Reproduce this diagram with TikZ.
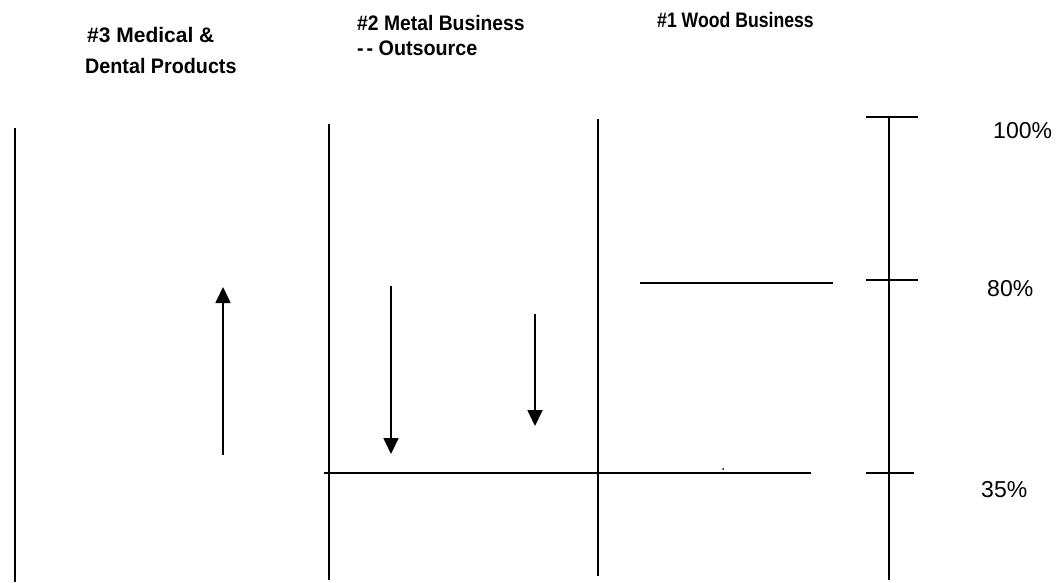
\documentclass[tikz,border=0pt]{standalone}
\usepackage{fontspec}
\setmainfont{Liberation Sans}
\usetikzlibrary{arrows.meta}
\newcommand{\squeezed}[2]{\scalebox{#1}[1]{#2}}
\tikzset{
  bar/.style={line width=1.8pt, line cap=butt},
  rule/.style={line width=1.6pt},
  move/.style={line width=1.7pt, -{Triangle[length=16pt,width=15pt]}},
  heading/.style={anchor=base west, inner sep=0pt, font=\fontsize{21}{21}\selectfont\bfseries},
  pct/.style={anchor=base west, inner sep=0pt, font=\fontsize{23}{23}\selectfont},
}
\begin{document}
\begin{tikzpicture}[x=1pt,y=-1pt]
  \useasboundingbox[fill=white] (0,0) rectangle (1064,582);

  % business headings
  \node[heading] (medA) at (87,42) {\squeezed{1.0}{\#3 Medical \&}};
  \node[heading] (medB) at (85,73) {\squeezed{0.94}{Dental Products}};
  \node[heading] (metA) at (357,30) {\squeezed{0.92}{\#2 Metal Business}};
  \node[heading] (metB) at (357,55) {\squeezed{0.94}{-\kern3pt- Outsource}};
  \node[heading] (wood) at (657,27) {\squeezed{0.84}{\#1 Wood Business}};

  % column dividers
  \coordinate (d1t) at (15,128);  \coordinate (d1b) at (15,582);
  \coordinate (d2t) at (329,124); \coordinate (d2b) at (329,580);
  \coordinate (d3t) at (598,119); \coordinate (d3b) at (598,576);
  \draw[bar] (d1t) -- (d1b);
  \draw[bar] (d2t) -- (d2b);
  \draw[bar] (d3t) -- (d3b);

  % percentage scale
  \coordinate (st) at (889,117); \coordinate (sb) at (889,580);
  \draw[bar] (st) -- (sb);
  \coordinate (t1a) at (866,117); \coordinate (t1b) at (918,117);
  \coordinate (t2a) at (866,280); \coordinate (t2b) at (918,280);
  \coordinate (t3a) at (866,473); \coordinate (t3b) at (914,473);
  \draw[rule] (t1a) -- (t1b);
  \draw[rule] (t2a) -- (t2b);
  \draw[rule] (t3a) -- (t3b);
  \node[pct] (p100) at (993,138) {100\%};
  \node[pct] (p80)  at (987,296) {80\%};
  \node[pct] (p35)  at (981,497) {35\%};

  % level lines
  \coordinate (l80a) at (640,283); \coordinate (l80b) at (833,283);
  \draw[rule] (l80a) -- (l80b);
  \coordinate (l35a) at (324,473); \coordinate (l35b) at (811,473);
  \draw[rule] (l35a) -- (l35b);
  \fill (723,469) circle (1pt);

  % direction of movement
  \coordinate (upS) at (223,455); \coordinate (upE) at (223,287);
  \draw[move] (upS) -- (upE);
  \coordinate (dnAS) at (391,286); \coordinate (dnAE) at (391,454);
  \draw[move] (dnAS) -- (dnAE);
  \coordinate (dnBS) at (535,314); \coordinate (dnBE) at (535,426);
  \draw[move] (dnBS) -- (dnBE);
\end{tikzpicture}
\end{document}
